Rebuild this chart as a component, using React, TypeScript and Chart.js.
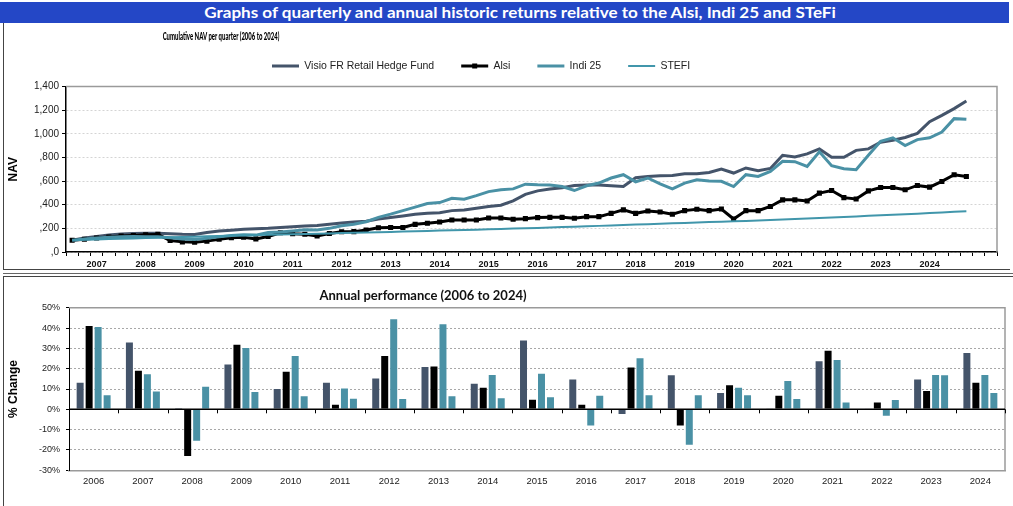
import React, { useEffect, useRef } from 'react';
import { Chart, registerables } from 'chart.js';

Chart.register(...registerables);
Chart.defaults.font.family = '"Liberation Sans", Arial, sans-serif';

// ---------- Top chart: cumulative NAV per quarter ----------
const seriesNames = ['Visio FR Retail Hedge Fund', 'Alsi', 'Indi 25', 'STEFI'];
const yearLabels = ['2007', '2008', '2009', '2010', '2011', '2012', '2013', '2014', '2015', '2016', '2017', '2018', '2019', '2020', '2021', '2022', '2023', '2024'];
const quarterSlots = 76;
const navTickValues = [0, 200, 400, 600, 800, 1000, 1200, 1400];
const navTickLabels = [',0', ',200', ',400', ',600', ',800', '1,000', '1,200', '1,400'];

const visioNav = [100, 118, 132, 143, 152, 156, 158, 158, 155, 150, 148, 165, 178, 185, 192, 196, 200, 207, 214, 219, 225, 234, 245, 254, 260, 279, 292, 305, 319, 328, 333, 350, 356, 370, 384, 396, 432, 488, 517, 532, 543, 563, 566, 566, 560, 554, 628, 639, 645, 648, 662, 662, 673, 702, 668, 711, 688, 707, 818, 804, 830, 872, 801, 801, 860, 872, 929, 946, 969, 1003, 1102, 1156, 1213, 1278];
const alsiNav = [100, 108, 118, 127, 135, 140, 146, 149, 98, 86, 82, 92, 108, 121, 125, 111, 131, 163, 155, 150, 136, 157, 171, 172, 186, 205, 207, 207, 234, 243, 254, 271, 271, 271, 288, 288, 277, 282, 291, 293, 293, 285, 299, 299, 327, 356, 327, 347, 339, 319, 350, 362, 350, 364, 279, 350, 350, 385, 441, 441, 432, 498, 520, 460, 449, 517, 546, 546, 526, 563, 549, 597, 654, 639];
const indiNav = [100, 110, 118, 125, 130, 131, 130, 128, 120, 110, 106, 116, 128, 140, 146, 143, 165, 170, 178, 188, 186, 200, 222, 234, 256, 293, 320, 350, 380, 410, 418, 455, 447, 477, 511, 526, 534, 574, 568, 566, 554, 520, 560, 583, 626, 654, 594, 626, 577, 534, 583, 611, 600, 598, 554, 654, 639, 682, 767, 764, 724, 847, 730, 705, 696, 818, 937, 966, 900, 951, 966, 1014, 1128, 1122];
const stefiNav = [100, 103, 106, 109, 112, 115, 118, 121, 124, 127, 130, 133, 136, 139, 142, 144, 146, 148, 150, 152, 154, 157, 160, 162, 165, 167, 170, 173, 175, 178, 181, 184, 187, 189, 192, 195, 198, 201, 204, 207, 211, 214, 218, 221, 225, 228, 232, 235, 239, 243, 246, 250, 253, 256, 260, 263, 266, 270, 274, 279, 283, 288, 292, 297, 301, 306, 310, 315, 319, 324, 330, 335, 340, 345];

// ---------- Bottom chart: annual performance ----------
const annualYears = ['2006', '2007', '2008', '2009', '2010', '2011', '2012', '2013', '2014', '2015', '2016', '2017', '2018', '2019', '2020', '2021', '2022', '2023', '2024'];
const visioAnnual = [13.6, 33.4, 0.8, 22.6, 10.5, 13.6, 15.6, 21.3, 13.1, 34.3, 15.2, -2.8, 17.2, 8.5, 0.5, 24.1, 0.1, 15.2, 28.2];
const alsiAnnual = [41.5, 19.5, -23.4, 32.3, 19.0, 2.8, 26.7, 21.6, 11.1, 5.2, 2.8, 21.1, -8.5, 12.3, 7.2, 29.3, 3.8, 9.5, 13.6];
const indiAnnual = [41.0, 17.7, -16.0, 30.7, 26.7, 10.7, 44.8, 42.3, 17.4, 18.0, -8.5, 25.6, -17.9, 11.1, 14.4, 24.8, -3.6, 17.4, 17.4];
const stefiAnnual = [7.4, 9.3, 11.6, 9.0, 6.9, 5.7, 5.6, 6.9, 5.9, 6.4, 7.2, 7.4, 7.4, 7.4, 5.6, 3.8, 5.1, 17.2, 8.5];
const pctTickValues = [-30, -20, -10, 0, 10, 20, 30, 40, 50];
const pctTickLabels = ['-30%', '-20%', '-10%', '0%', '10%', '20%', '30%', '40%', '50%'];

const COLORS = {
  visio: '#44546a',
  alsi: '#000000',
  indi: '#4a91a5',
  stefi: '#4196ab',
};

const quarterCategories = Array.from({ length: quarterSlots }, (_, i) =>
  i % 4 === 2 ? yearLabels[(i - 2) / 4] ?? '' : ''
);

const legendShift = {
  id: 'legendShift',
  afterUpdate(chart: any, _a: any, opts: any) {
    const lg = chart.legend;
    if (!lg || !lg.legendHitBoxes || !lg.legendHitBoxes.length) return;
    const first = lg.legendHitBoxes[0];
    const dx = opts.firstX - first.left;
    const dy = opts.centerY - (first.top + first.height / 2);
    lg.left += dx;
    lg.right += dx;
    lg.top += dy;
    lg.bottom += dy;
    lg.legendHitBoxes.forEach((h: any) => {
      h.left += dx;
      h.top += dy;
    });
  },
  afterDraw(chart: any, _a: any, opts: any) {
    const lg = chart.legend;
    const h = lg?.legendHitBoxes?.[opts.markerIndex];
    if (!h) return;
    const ctx = chart.ctx;
    const cx = h.left + opts.boxWidth / 2;
    const cy = h.top + h.height / 2;
    ctx.save();
    ctx.fillStyle = '#000';
    ctx.fillRect(cx - 2.5, cy - 2.5, 5, 5);
    ctx.restore();
  },
};

const plotFrame = {
  id: 'plotFrame',
  beforeDatasetsDraw(chart: any, _a: any, opts: any) {
    const { ctx, chartArea: a } = chart;
    ctx.save();
    ctx.strokeStyle = opts.color || '#999';
    ctx.lineWidth = opts.width || 1.5;
    ctx.beginPath();
    ctx.moveTo(a.left, a.top);
    ctx.lineTo(a.right, a.top);
    ctx.lineTo(a.right, a.bottom);
    ctx.stroke();
    ctx.restore();
  },
};

const zeroAxis = {
  id: 'zeroAxis',
  afterDatasetsDraw(chart: any) {
    const { ctx, chartArea: a, scales } = chart;
    const x = scales.x;
    const y = scales.y;
    const y0 = y.getPixelForValue(0);
    ctx.save();
    ctx.strokeStyle = '#000';
    ctx.lineWidth = 1.5;
    ctx.beginPath();
    ctx.moveTo(a.left, y0);
    ctx.lineTo(a.right, y0);
    ctx.stroke();
    ctx.lineWidth = 1;
    ctx.beginPath();
    const n = x.ticks.length;
    for (let i = 0; i <= n; i++) {
      let px;
      if (i === 0) px = a.left;
      else if (i === n) px = a.right;
      else px = (x.getPixelForValue(i - 1) + x.getPixelForValue(i)) / 2;
      px = Math.round(px) + 0.5;
      ctx.moveTo(px, y0);
      ctx.lineTo(px, y0 + 4);
    }
    ctx.stroke();
    ctx.restore();
  },
};

function NavChart() {
  const ref = useRef<HTMLCanvasElement | null>(null);
  useEffect(() => {
    if (!ref.current) return;
    const chart = new Chart(ref.current, {
      type: 'line',
      data: {
        labels: quarterCategories,
        datasets: [
          { label: seriesNames[0], data: visioNav, borderColor: COLORS.visio, backgroundColor: COLORS.visio, borderWidth: 3, pointRadius: 0, order: 4 },
          { label: seriesNames[1], data: alsiNav, borderColor: COLORS.alsi, backgroundColor: COLORS.alsi, borderWidth: 3, pointRadius: 3.6, pointStyle: 'rect', pointBorderWidth: 0, order: 3 },
          { label: seriesNames[2], data: indiNav, borderColor: COLORS.indi, backgroundColor: COLORS.indi, borderWidth: 3, pointRadius: 0, order: 2 },
          { label: seriesNames[3], data: stefiNav, borderColor: COLORS.stefi, backgroundColor: COLORS.stefi, borderWidth: 2, pointRadius: 0, order: 1 },
        ],
      },
      options: {
        responsive: false,
        animation: false,
        devicePixelRatio: 1,
        layout: { padding: { top: 16, right: 11, left: 0, bottom: 0 } },
        elements: { line: { tension: 0 } },
        plugins: {
          legend: {
            position: 'top',
            labels: {
              usePointStyle: true,
              pointStyle: 'line',
              pointStyleWidth: 27,
              boxHeight: 10,
              padding: 27,
              color: '#222',
              font: { size: 10.5 },
              sort: (a: any, b: any) => a.datasetIndex - b.datasetIndex,
              generateLabels: (c: any) => {
                const base = (Chart.defaults.plugins.legend.labels as any).generateLabels(c);
                return base.map((item: any) => {
                  const ds: any = c.data.datasets[item.datasetIndex];
                  return { ...item, pointStyle: 'line', lineWidth: ds.borderWidth, strokeStyle: ds.borderColor, fillStyle: ds.borderColor };
                });
              },
            },
          },
          tooltip: { enabled: false },
          legendShift: { firstX: 267, centerY: 43, markerIndex: 1, boxWidth: 27 },
          plotFrame: { color: '#9a9a9a', width: 1.5 },
        } as any,
        scales: {
          x: {
            type: 'category',
            offset: true,
            grid: { offset: true, drawOnChartArea: false, drawTicks: true, tickLength: 4, tickColor: '#000', tickWidth: 1 },
            border: { color: '#000', width: 1.5 },
            ticks: { autoSkip: false, maxRotation: 0, minRotation: 0, padding: 3, color: '#111', font: { size: 9, weight: 'bold' } },
            afterFit: (s: any) => { s.height = 17; },
          },
          y: {
            min: 0,
            max: 1400,
            ticks: {
              stepSize: 200,
              padding: 3,
              color: '#222',
              font: { size: 10 },
              callback: (v: any) => navTickLabels[navTickValues.indexOf(Number(v))] ?? '',
            },
            grid: { color: '#d4d4d4', tickLength: 4, tickColor: '#000' },
            border: { color: '#000', width: 1.5, dash: [2, 2] },
            title: { display: true, text: 'NAV', color: '#000', font: { size: 12, weight: 'bold' }, padding: { top: 1, bottom: 0 } },
            afterFit: (s: any) => { s.width = 61; },
          },
        },
      },
      plugins: [legendShift, plotFrame],
    } as any);
    return () => chart.destroy();
  }, []);
  return <canvas ref={ref} width={1003} height={246} style={{ display: 'block' }} />;
}

function AnnualChart() {
  const ref = useRef<HTMLCanvasElement | null>(null);
  useEffect(() => {
    if (!ref.current) return;
    const barBorder = 'rgba(255,255,255,0.45)';
    const chart = new Chart(ref.current, {
      type: 'bar',
      data: {
        labels: annualYears,
        datasets: [
          { label: seriesNames[0], data: visioAnnual, backgroundColor: COLORS.visio, borderColor: barBorder, borderWidth: 1 },
          { label: seriesNames[1], data: alsiAnnual, backgroundColor: COLORS.alsi, borderColor: barBorder, borderWidth: 1 },
          { label: seriesNames[2], data: indiAnnual, backgroundColor: COLORS.indi, borderColor: barBorder, borderWidth: 1 },
          { label: seriesNames[3], data: stefiAnnual, backgroundColor: COLORS.indi, borderColor: barBorder, borderWidth: 1 },
        ],
      },
      options: {
        responsive: false,
        animation: false,
        devicePixelRatio: 1,
        layout: { padding: { top: 30.7, right: 8, left: 0, bottom: 0 } },
        datasets: { bar: { categoryPercentage: 0.73, barPercentage: 1 } },
        plugins: {
          legend: { display: false },
          tooltip: { enabled: false },
          plotFrame: { color: '#9a9a9a', width: 1.5 },
        } as any,
        scales: {
          x: {
            grid: { display: true, drawOnChartArea: false, drawTicks: false },
            border: { color: '#9a9a9a', width: 1.5 },
            ticks: { padding: 5.7, color: '#222', font: { size: 9.5 } },
            afterFit: (s: any) => { s.height = 35.7; },
          },
          y: {
            min: -30,
            max: 50,
            ticks: {
              stepSize: 10,
              padding: 6,
              color: '#222',
              font: { size: 9 },
              callback: (v: any) => pctTickLabels[pctTickValues.indexOf(Number(v))] ?? '',
            },
            grid: { color: '#a8a8a8', tickLength: 3, tickColor: '#000' },
            border: { color: '#000', width: 1, dash: [2, 2] },
            title: { display: true, text: '% Change', color: '#000', font: { size: 12, weight: 'bold' }, padding: { top: 1.8, bottom: 0 } },
            afterFit: (s: any) => { s.width = 64; },
          },
        },
      },
      plugins: [plotFrame, zeroAxis],
    } as any);
    return () => chart.destroy();
  }, []);
  return <canvas ref={ref} width={1008} height={229} style={{ display: 'block' }} />;
}

export default function App() {
  return (
    <div style={{ position: 'absolute', left: 0, top: 0, width: 1013, height: 506, background: '#fff', overflow: 'hidden' }}>
      <div style={{ position: 'absolute', left: 0, top: 2, width: 1009, height: 21, background: '#2447c6' }}>
        <span style={{ position: 'absolute', left: 520, top: 0, transform: 'translateX(-50%) scaleX(1.137)', whiteSpace: 'nowrap', color: '#fff', font: 'bold 15px Lato, "Open Sans", sans-serif', lineHeight: '21px' }}>
          Graphs of quarterly and annual historic returns relative to the Alsi, Indi 25 and STeFi
        </span>
      </div>
      <div style={{ position: 'absolute', left: 3, top: 23, width: 1006, height: 246, borderLeft: '1px solid #444', borderBottom: '1px solid #444' }} />
      <div style={{ position: 'absolute', left: 3, top: 273, width: 1010, height: 1, background: '#666' }} />
      <div style={{ position: 'absolute', left: 3, top: 276, width: 1010, height: 240, borderLeft: '1px solid #444', borderTop: '1px solid #444' }} />
      <div style={{ position: 'absolute', left: 5, top: 23 }}>
        <NavChart />
      </div>
      <div style={{ position: 'absolute', left: 5, top: 277 }}>
        <AnnualChart />
      </div>
      <span style={{ position: 'absolute', left: 221, top: 35, transform: 'translate(-50%, -50%) scaleX(0.52)', whiteSpace: 'nowrap', color: '#000', font: '900 11.5px Lato, "Open Sans", sans-serif' }}>
        Cumulative NAV per quarter (2006 to 2024)
      </span>
      <span style={{ position: 'absolute', left: 423, top: 295, transform: 'translate(-50%, -50%)', whiteSpace: 'nowrap', color: '#111', font: 'bold 13px Lato, "Open Sans", sans-serif' }}>
        Annual performance (2006 to 2024)
      </span>
    </div>
  );
}
